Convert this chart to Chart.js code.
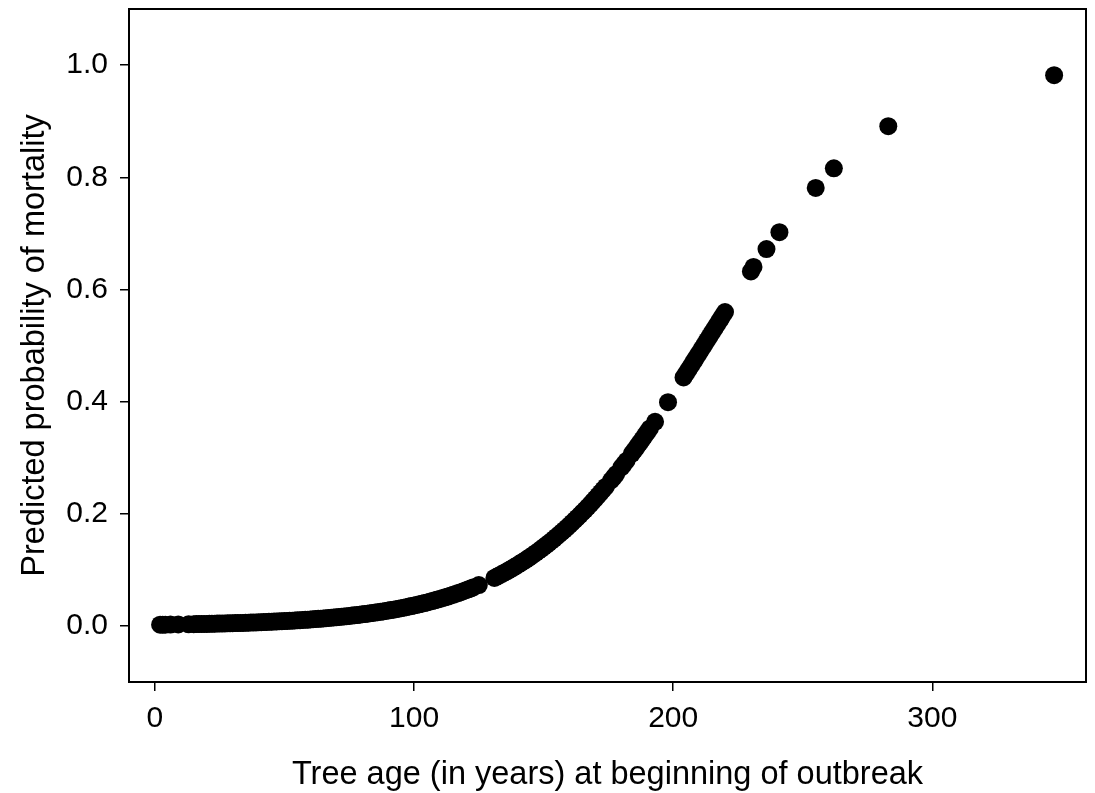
<!DOCTYPE html>
<html><head><meta charset="utf-8">
<script src="https://cdn.jsdelivr.net/npm/chart.js@4.4.0/dist/chart.umd.min.js"></script>
<style>html,body{margin:0;padding:0;background:#fff}canvas{display:block}</style>
</head><body>
<canvas id="c" width="1095" height="793"></canvas>
<script>
// Tree age (years) at beginning of outbreak
const ages = [
  2, 3, 4, 6, 9, 13,
  15, 16, 17, 18, 19, 20, 21, 22, 23, 24, 25, 26, 27, 28, 29,
  30, 31, 32, 33, 34, 35, 36, 37, 38, 39, 40, 41, 42, 43, 44, 45, 46, 47, 48, 49,
  50, 51, 52, 53, 54, 55, 56, 57, 58, 59, 60, 61, 62, 63, 64, 65, 66, 67, 68, 69,
  70, 71, 72, 73, 74, 75, 76, 77, 78, 79, 80, 81, 82, 83, 84, 85, 86, 87, 88, 89,
  90, 91, 92, 93, 94, 95, 96, 97, 98, 99, 100, 101, 102, 103, 104, 105, 106, 107, 108, 109,
  110, 111, 112, 113, 114, 115, 116, 117, 118, 119, 120, 121, 122, 123, 125,
  131, 132, 133, 134, 135, 136, 137, 138, 139, 140, 141, 142, 143, 144, 145, 146, 147, 148, 149,
  150, 151, 152, 153, 154, 155, 156, 157, 158, 159, 160, 161, 162, 163, 164, 165, 166, 167, 168, 169,
  170, 171, 172, 173, 174, 176, 177, 178, 180, 181, 182, 184, 185, 186, 187, 188, 189, 190, 191,
  193, 198,
  204, 205, 206, 207, 208, 209, 210, 211, 212, 213, 214, 215, 216, 217, 218, 219, 220,
  230, 231, 236, 241, 255, 262, 283, 347
];
// Predicted probability of mortality
const mortality = [
  0.0021, 0.0022, 0.0023, 0.0024, 0.0026, 0.0029,
  0.0031, 0.0032, 0.0033, 0.0034, 0.0035, 0.0036, 0.0037, 0.0038, 0.0039, 0.0041, 0.0042, 0.0043, 0.0044, 0.0046, 0.0047,
  0.0048, 0.0050, 0.0051, 0.0053, 0.0054, 0.0056, 0.0058, 0.0059, 0.0061, 0.0063, 0.0065, 0.0067, 0.0069, 0.0071, 0.0073, 0.0075, 0.0077, 0.0079, 0.0082, 0.0084,
  0.0087, 0.0089, 0.0092, 0.0094, 0.0097, 0.0100, 0.0103, 0.0106, 0.0109, 0.0112, 0.0116, 0.0119, 0.0123, 0.0126, 0.0130, 0.0134, 0.0138, 0.0142, 0.0146, 0.0150,
  0.0154, 0.0159, 0.0164, 0.0168, 0.0173, 0.0178, 0.0184, 0.0189, 0.0194, 0.0200, 0.0206, 0.0212, 0.0218, 0.0224, 0.0231, 0.0238, 0.0244, 0.0252, 0.0259, 0.0266,
  0.0274, 0.0282, 0.0290, 0.0299, 0.0307, 0.0316, 0.0325, 0.0334, 0.0344, 0.0354, 0.0364, 0.0374, 0.0385, 0.0396, 0.0407, 0.0419, 0.0431, 0.0443, 0.0456, 0.0469,
  0.0482, 0.0496, 0.0510, 0.0524, 0.0539, 0.0554, 0.0569, 0.0585, 0.0602, 0.0618, 0.0636, 0.0653, 0.0671, 0.0690, 0.0728,
  0.0856, 0.0880, 0.0904, 0.0928, 0.0953, 0.0978, 0.1005, 0.1031, 0.1059, 0.1087, 0.1116, 0.1145, 0.1175, 0.1206, 0.1237, 0.1269, 0.1302, 0.1336, 0.1370,
  0.1405, 0.1441, 0.1477, 0.1514, 0.1552, 0.1591, 0.1631, 0.1671, 0.1712, 0.1754, 0.1797, 0.1841, 0.1885, 0.1930, 0.1976, 0.2023, 0.2071, 0.2120, 0.2169, 0.2219,
  0.2270, 0.2322, 0.2375, 0.2429, 0.2482, 0.2593, 0.2650, 0.2707, 0.2825, 0.2885, 0.2945, 0.3068, 0.3131, 0.3194, 0.3258, 0.3323, 0.3388, 0.3454, 0.3521,
  0.3640, 0.3990,
  0.4430, 0.4502, 0.4575, 0.4648, 0.4721, 0.4793, 0.4866, 0.4940, 0.5013, 0.5086, 0.5160, 0.5233, 0.5306, 0.5379, 0.5452, 0.5524, 0.5596,
  0.632, 0.640, 0.672, 0.702, 0.781, 0.816, 0.891, 0.982
];
const xTicks = [0, 100, 200, 300];
const yTicks = [0.0, 0.2, 0.4, 0.6, 0.8, 1.0];
const xTitle = 'Tree age (in years) at beginning of outbreak';
const yTitle = 'Predicted probability of mortality';

const FONT = '"Liberation Sans", Arial, sans-serif';
const points = ages.map((a, i) => ({ x: a, y: mortality[i] }));

const boxPlugin = {
  id: 'box',
  afterDraw(chart) {
    const { ctx, chartArea: a } = chart;
    ctx.save();
    ctx.strokeStyle = '#000';
    ctx.lineWidth = 2;
    ctx.strokeRect(a.left, a.top, a.right - a.left, a.bottom - a.top);
    ctx.restore();
  }
};

function zeroPad(s) { s.paddingTop = 0; s.paddingBottom = 0; s.paddingLeft = 0; s.paddingRight = 0; }

new Chart(document.getElementById('c'), {
  type: 'scatter',
  data: { datasets: [{ data: points, backgroundColor: '#000', borderWidth: 0, pointRadius: 9, pointHoverRadius: 9 }] },
  options: {
    responsive: false,
    devicePixelRatio: 1,
    animation: false,
    layout: { padding: { top: 9, right: 7, left: 0, bottom: 0 } },
    plugins: { legend: { display: false }, tooltip: { enabled: false } },
    scales: {
      x: {
        type: 'linear', min: -10, max: 359.3,
        afterBuildTicks: s => { s.ticks = xTicks.map(v => ({ value: v })); },
        afterFit: s => { s.height = 111; zeroPad(s); },
        ticks: { color: '#000', font: { family: FONT, size: 30 }, padding: 10, maxRotation: 0, callback: v => String(v) },
        grid: { display: true, drawOnChartArea: false, drawTicks: true, tickLength: 9, color: '#000', lineWidth: 1.5 },
        border: { display: true, color: '#000', width: 2 },
        title: { display: true, text: xTitle, color: '#000', font: { family: FONT, size: 32.5, lineHeight: 1.0 }, padding: { top: 0, bottom: 2 } }
      },
      y: {
        type: 'linear', min: -0.1, max: 1.1,
        afterBuildTicks: s => { s.ticks = yTicks.map(v => ({ value: v })); },
        afterFit: s => { s.width = 129; zeroPad(s); },
        ticks: { color: '#000', font: { family: FONT, size: 30 }, padding: 12, callback: v => Number(v).toFixed(1) },
        grid: { display: true, drawOnChartArea: false, drawTicks: true, tickLength: 9, color: '#000', lineWidth: 1.5 },
        border: { display: true, color: '#000', width: 2 },
        title: { display: true, text: yTitle, color: '#000', font: { family: FONT, size: 32.5, lineHeight: 1.0 }, padding: { top: 19, bottom: 0 } }
      }
    }
  },
  plugins: [boxPlugin]
});
</script>
</body></html>
